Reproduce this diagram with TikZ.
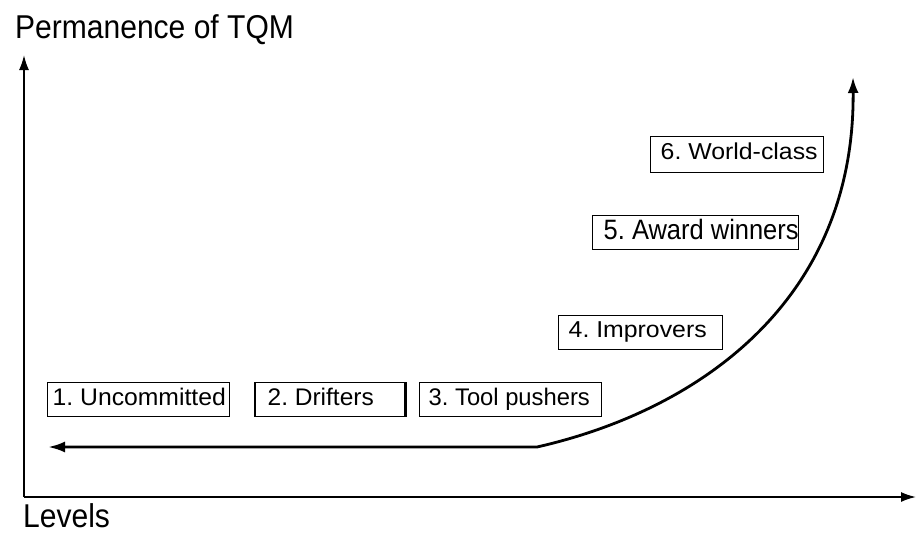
\documentclass[tikz,border=0pt]{standalone}
\usepackage{fontspec}
\setmainfont{Liberation Sans}
\usetikzlibrary{arrows.meta}
\frenchspacing
% text squeezed or widened horizontally by #1
\newcommand{\hsq}[2]{\scalebox{#1}[1]{#2}}
% fixed-width, left-aligned box contents
\newcommand{\lvtext}[3]{\makebox[#1pt][l]{\hsq{#2}{#3}}}
\begin{document}
\begin{tikzpicture}[x=1pt,y=-1pt,
  axis/.style={line width=1.8pt,-{Latex[length=15pt,width=10pt]}},
  trend/.style={line width=2.8pt,{Latex[length=17pt,width=11pt]}-{Latex[length=16pt,width=11pt]}},
  lvl/.style={draw,line width=1.4pt,anchor=north west,text height=23pt,text depth=11pt,
    inner ysep=0pt,font=\fontsize{24}{26}\selectfont},
  axlabel/.style={anchor=base west,inner sep=0pt,font=\fontsize{33}{36}\selectfont}]
\useasboundingbox (0,0) rectangle (917,535);

% axes
\coordinate (origin) at (24,497);
\coordinate (ytop) at (24,55);
\coordinate (xend) at (916,497);
\draw[axis] (origin) -- (ytop);
\draw[axis] (origin) -- (xend);
\node[axlabel] (ylab) at (15,39) {\hsq{0.91}{Permanence of TQM}};
\node[axlabel] (xlab) at (23,527) {\hsq{0.91}{Levels}};

% level boxes
\node[lvl,inner xsep=5pt] (l1) at (47,382) {\lvtext{172}{1.03}{1. Uncommitted}};
\node[lvl,inner xsep=12pt] (l2) at (255,382) {\lvtext{125}{1.02}{2. Drifters}};
\draw[line width=2.6pt] (l2.north west) -- (l2.south west) (l2.north east) -- (l2.south east);
\node[lvl,inner xsep=9pt] (l3) at (419,382) {\lvtext{164}{0.99}{3. Tool pushers}};
\node[lvl,inner xsep=10pt,text height=22pt,text depth=12pt,font=\fontsize{23}{25}\selectfont] (l4) at (558,315) {\lvtext{144}{1.08}{4. Improvers}};
\node[lvl,inner xsep=11pt,text height=24pt,text depth=10pt,font=\fontsize{28}{30}\selectfont] (l5) at (592,215) {\lvtext{184}{0.91}{5. Award winners}};
\node[lvl,inner xsep=10pt,text height=23pt,text depth=13pt,font=\fontsize{23}{25}\selectfont] (l6) at (650,136) {\lvtext{153}{1.08}{6. World-class}};

% growth curve
\coordinate (left) at (48,447);
\coordinate (bend) at (537,447);
\coordinate (top) at (853,77);
\draw[trend] (left) -- (bend) .. controls (700,410) and (855,300) .. (top);
\end{tikzpicture}
\end{document}
